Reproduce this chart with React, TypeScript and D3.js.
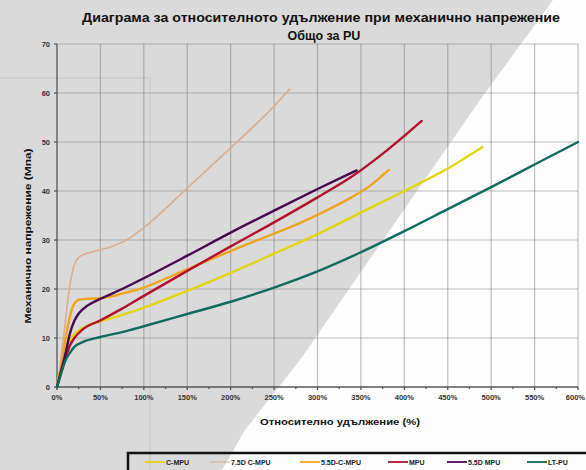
import React from "react";
import * as d3 from "d3";

const W = 586;
const H = 470;

const titleLines = [
  "Диаграма за относителното  удължение при механично напрежение",
  "Общо за PU",
];
const yTitle = "Механично напрежение (Мпа)";
const xTitle = "Относително удължение (%)";

const xTicks = [0, 50, 100, 150, 200, 250, 300, 350, 400, 450, 500, 550, 600];
const yTicks = [0, 10, 20, 30, 40, 50, 60, 70];

const seriesNames = ["C-MPU", "7.5D C-MPU", "5.5D-C-MPU", "MPU", "5.5D MPU", "LT-PU"];
const seriesColors = ["#e2d60c", "#d9ae8e", "#f0a31c", "#b3112c", "#46094e", "#0f6b5e"];
const seriesWidths = [2.4, 1.6, 2.4, 2.4, 2.4, 2.4];

// [elongation %, stress MPa]
const cMpu: [number, number][] = [
  [0, 0], [5, 3.5], [10, 7.3], [15, 9.5], [20, 10.8], [30, 12.1], [50, 13.4], [75, 14.7],
  [100, 16.2], [150, 19.6], [200, 23.3], [250, 27.2], [300, 31.2], [350, 35.6],
  [400, 40], [450, 44.6], [490, 49],
];
const d75Cmpu: [number, number][] = [
  [0, 0], [4, 5], [8, 11], [12, 17], [16, 22], [20, 25], [25, 26.4], [35, 27.3], [50, 28],
  [65, 28.8], [80, 30], [95, 31.8], [110, 34], [150, 40.6], [200, 48.8], [250, 57.3], [268, 60.8],
];
const d55Cmpu: [number, number][] = [
  [0, 0], [5, 4.5], [10, 10], [15, 14.5], [20, 17], [25, 17.8], [35, 18], [50, 18.1],
  [65, 18.6], [80, 19.3], [100, 20.3], [130, 22.5], [160, 24.8], [190, 27], [220, 29.2],
  [250, 31.3], [280, 33.5], [310, 36], [340, 38.8], [360, 41], [382, 44.3],
];
const mpu: [number, number][] = [
  [0, 0], [5, 3], [10, 6], [15, 8.5], [20, 10], [30, 11.8], [50, 13.6], [75, 16],
  [100, 18.6], [150, 23.7], [200, 28.7], [250, 33.6], [300, 38.7], [340, 43],
  [380, 48.3], [420, 54.3],
];
const d55Mpu: [number, number][] = [
  [0, 0], [5, 3.5], [10, 7], [15, 11], [20, 13.5], [25, 15], [35, 16.6], [50, 18],
  [75, 20], [100, 22.2], [150, 26.8], [200, 31.5], [250, 36], [300, 40.4], [345, 44.2],
];
const ltPu: [number, number][] = [
  [0, 0], [5, 3], [10, 5.5], [15, 7], [20, 8.2], [30, 9.2], [50, 10.2], [75, 11.2],
  [100, 12.4], [150, 14.9], [200, 17.4], [250, 20.3], [300, 23.6], [350, 27.5],
  [400, 31.8], [450, 36.3], [500, 40.8], [550, 45.4], [600, 50],
];
const seriesData = [cMpu, d75Cmpu, d55Cmpu, mpu, d55Mpu, ltPu];

const legendLineX = [145, 210, 300, 388, 447, 527];

export default function App() {
  const x = d3.scaleLinear().domain([0, 600]).range([57, 578]);
  const y = d3.scaleLinear().domain([0, 70]).range([387, 44]);
  const line = d3
    .line<[number, number]>()
    .x((d) => x(d[0]))
    .y((d) => y(d[1]))
    .curve(d3.curveMonotoneX);
  const minor = d3.range(0, 601, 25);
  const font = "'Liberation Sans', Arial, sans-serif";

  return (
    <svg width={W} height={H} style={{ position: "absolute", left: 0, top: 0 }} fontFamily={font}>
      <rect x={0} y={0} width={W} height={H} fill="#dadada" />
      <path d="M553,0 L586,0 L586,470 L222,470 L245,430 L300,360 L480,100 Z" fill="#fdfdfd" />
      {/* scan artefact frame */}
      <path d="M0,78 L150,78 L150,470" fill="none" stroke="#c4c4c4" strokeWidth={1} />
      {/* grid */}
      <g stroke="#707070" strokeOpacity={0.45} strokeWidth={1.2}>
        {xTicks.slice(1).map((t) => (
          <line key={"gx" + t} x1={x(t)} x2={x(t)} y1={y(70)} y2={y(0)} />
        ))}
        {yTicks.slice(1).map((t) => (
          <line key={"gy" + t} x1={x(0)} x2={x(600)} y1={y(t)} y2={y(t)} />
        ))}
      </g>
      {/* axes */}
      <g stroke="#555" strokeWidth={1.3}>
        <line x1={x(0)} x2={x(0)} y1={y(70)} y2={y(0)} />
        <line x1={x(0)} x2={x(600)} y1={y(0)} y2={y(0)} />
        {yTicks.map((t) => (
          <line key={"ty" + t} x1={x(0) - 3} x2={x(0)} y1={y(t)} y2={y(t)} />
        ))}
        {minor.map((t) => (
          <line key={"tx" + t} x1={x(t)} x2={x(t)} y1={y(0)} y2={y(0) + (t % 50 === 0 ? 3 : 2)} />
        ))}
      </g>
      {/* series */}
      {seriesData.map((d, i) => (
        <path
          key={seriesNames[i]}
          d={line(d) || ""}
          fill="none"
          stroke={seriesColors[i]}
          strokeWidth={seriesWidths[i]}
          strokeLinejoin="round"
          strokeLinecap="round"
        />
      ))}
      {/* tick labels */}
      <g fontSize={7.5} fontWeight="bold" fill="#333">
        {yTicks.map((t) => (
          <text key={"ly" + t} x={x(0) - 7} y={y(t) + 2.6} textAnchor="end">
            {t}
          </text>
        ))}
        {xTicks.map((t, i) => (
          <text
            key={"lx" + t}
            x={i === xTicks.length - 1 ? 585 : x(t)}
            y={400}
            textAnchor={i === xTicks.length - 1 ? "end" : "middle"}
          >
            {t + "%"}
          </text>
        ))}
      </g>
      {/* titles */}
      <g fontWeight="bold" fill="#111">
        <text x={321} y={22} fontSize={12.5} textAnchor="middle" textLength={478} lengthAdjust="spacingAndGlyphs">
          {titleLines[0]}
        </text>
        <text x={324} y={40} fontSize={12.5} textAnchor="middle">
          {titleLines[1]}
        </text>
        <text x={340} y={425} fontSize={9} textAnchor="middle" textLength={160} lengthAdjust="spacingAndGlyphs">
          {xTitle}
        </text>
        <text
          transform={`translate(31,236) rotate(-90)`}
          fontSize={9}
          textAnchor="middle"
          textLength={175}
          lengthAdjust="spacingAndGlyphs"
        >
          {yTitle}
        </text>
      </g>
      {/* legend */}
      <path d="M128,470 L128,453 L586,453" fill="none" stroke="#111" strokeWidth={2.5} />
      <g fontSize={7} fontWeight="bold" fill="#222">
        {seriesNames.map((n, i) => (
          <g key={"lg" + n}>
            <line
              x1={legendLineX[i]}
              x2={legendLineX[i] + 20}
              y1={462}
              y2={462}
              stroke={seriesColors[i]}
              strokeWidth={i === 1 ? 1 : 1.8}
            />
            <text x={legendLineX[i] + 21} y={464.5}>
              {n}
            </text>
          </g>
        ))}
      </g>
    </svg>
  );
}
